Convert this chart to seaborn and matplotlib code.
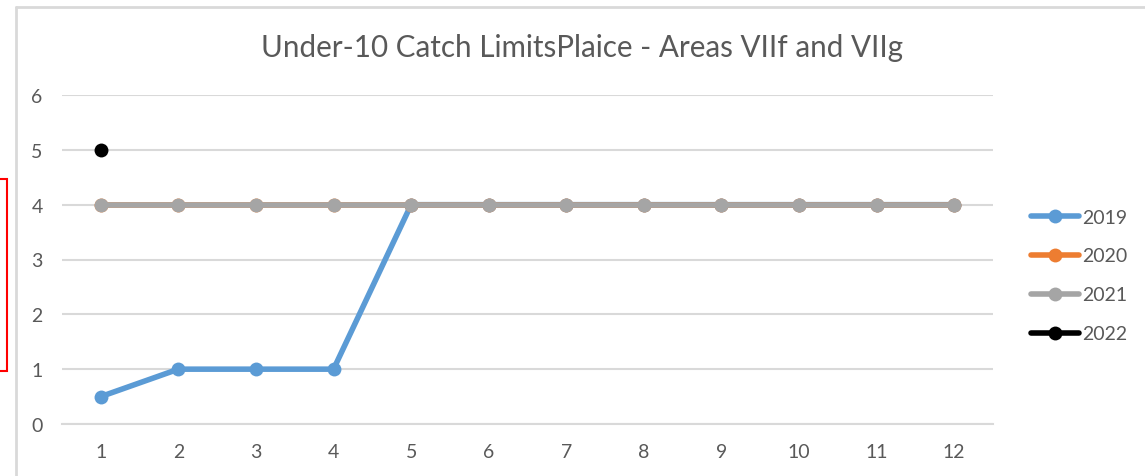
import numpy as np
import pandas as pd
import matplotlib
matplotlib.use("Agg")
import matplotlib.pyplot as plt
from matplotlib.lines import Line2D
from matplotlib.patches import Rectangle
import seaborn as sns

months = [1, 2, 3, 4, 5, 6, 7, 8, 9, 10, 11, 12]
years = ["2019", "2020", "2021", "2022"]
v2019 = [0.5, 1, 1, 1, 4, 4, 4, 4, 4, 4, 4, 4]
v2020 = [4, 4, 4, 4, 4, 4, 4, 4, 4, 4, 4, 4]
v2021 = [4, 4, 4, 4, 4, 4, 4, 4, 4, 4, 4, 4]
v2022 = [5, np.nan, np.nan, np.nan, np.nan, np.nan, np.nan, np.nan, np.nan, np.nan, np.nan, np.nan]
colors = ["#5B9BD5", "#ED7D31", "#A5A5A5", "#000000"]
title = "Under-10 Catch LimitsPlaice - Areas VIIf and VIIg"

rows = []
for y, vals in zip(years, [v2019, v2020, v2021, v2022]):
    for m, v in zip(months, vals):
        rows.append({"month": m, "year": y, "value": v})
df = pd.DataFrame(rows).dropna()

sns.set_theme(style="white")
plt.rcParams["font.family"] = ["Lato", "DejaVu Sans"]

W, H = 1145, 477
fig = plt.figure(figsize=(W / 100, H / 100), dpi=100)
ax = fig.add_axes([62 / W, (H - 425) / H, (993 - 62) / W, (425 - 96) / H])

palette = dict(zip(years, colors))
sns.lineplot(data=df, x="month", y="value", hue="year", palette=palette,
             hue_order=years, marker="o", markersize=10, linewidth=4,
             markeredgewidth=0, legend=False, ax=ax, sort=True)

ax.set_xlim(0.5, 12.5)
ax.set_ylim(0, 6)
ax.set_xticks(months)
ax.set_xticklabels([str(m) for m in months])
ax.set_yticks(range(0, 7))
ax.grid(axis="y", color="#D9D9D9", linewidth=1.5)
ax.set_axisbelow(True)
for s in ["top", "right", "left"]:
    ax.spines[s].set_visible(False)
ax.spines["bottom"].set_color("#D9D9D9")
ax.spines["bottom"].set_linewidth(1.5)
ax.tick_params(axis="both", length=0, labelsize=14, colors="#595959")
ax.tick_params(axis="x", pad=14)
ax.tick_params(axis="y", pad=14)
ax.set_xlabel("")
ax.set_ylabel("")

fig.text(582 / W, 1 - 48 / H, title, ha="center", va="center",
         fontsize=21.3, color="#595959")

handles = [Line2D([0], [0], color=c, lw=4, marker="o", markersize=10,
                  markeredgewidth=0) for c in colors]
fig.legend(handles, years, loc="upper left", bbox_to_anchor=(1013 / W, 1 - 192 / H),
           frameon=False, fontsize=14, labelcolor="#595959",
           handlelength=2.5, handletextpad=0.15, labelspacing=1.13)

# chart-area border (top and left visible)
fig.add_artist(Line2D([16 / W, 1.0], [1 - 8 / H, 1 - 8 / H], color="#D9D9D9", lw=2,
                      transform=fig.transFigure))
fig.add_artist(Line2D([16 / W, 16 / W], [1 - 8 / H, 0], color="#D9D9D9", lw=2,
                      transform=fig.transFigure))
# partial red selection box at left edge
fig.add_artist(Rectangle((-20 / W, 1 - 372 / H), 27 / W, 192 / H, fill=False,
                         edgecolor="#FF0000", lw=1.5, transform=fig.transFigure))

fig.savefig("out.png", dpi=100)
